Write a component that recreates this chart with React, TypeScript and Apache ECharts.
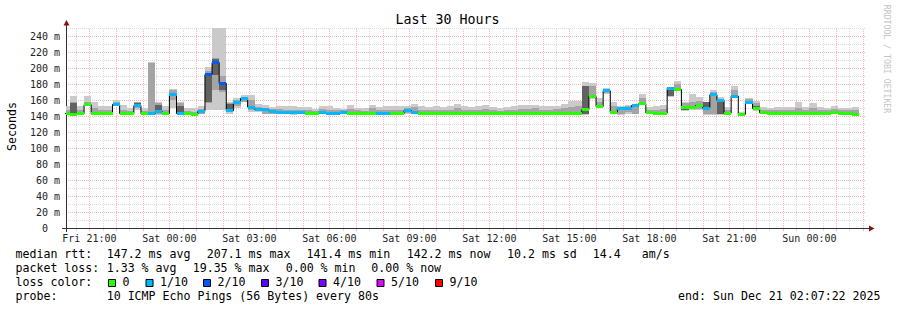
import React, { useEffect, useRef } from "react";
import * as echarts from "echarts";

// ---- time frame (hours counted from Fri 00:00) ----
const START_HOUR = 20 + 7 / 60 + 22 / 3600; // Fri 20:07:22
const END_HOUR = START_HOUR + 30; // Sun 02:07:22
const FIRST_STEP_HOUR = 20; // consolidated rows start Fri 20:00
const STEP_HOURS = 16 / 60; // 960 s rows
const Y_MAX = 250;

// ---- tick labels ----
const xTickHours = [21, 24, 27, 30, 33, 36, 39, 42, 45, 48];
const xTickLabels = ["Fri 21:00", "Sat 00:00", "Sat 03:00", "Sat 06:00", "Sat 09:00", "Sat 12:00", "Sat 15:00", "Sat 18:00", "Sat 21:00", "Sun 00:00"];

// ---- data (ms), one value per 16-minute row ----
const medianRtt = [
  143, 142.5, 143, 154, 143, 143, 143, 154.5, 143, 143,
  153, 143, 143, 145.5, 143, 167, 143, 143, 142, 146,
  192, 207, 181, 146.5, 157, 162, 151, 148, 148, 146,
  145, 145, 144.5, 145, 143, 143.5, 145, 143.5, 143, 145,
  143, 143, 143, 143, 143, 143, 143, 143, 147, 145,
  143.5, 143, 143, 143, 143, 143, 143, 143, 143, 143,
  143, 143, 143, 143, 143, 143, 143, 143, 143, 143,
  143, 143, 143, 148, 164.5, 152, 171.5, 145, 149, 150,
  153, 155.5, 144, 143, 143.5, 174.5, 173.3, 151, 151, 153,
  150, 166.5, 159.5, 143.5, 165, 142, 157, 149.5, 144, 143.5,
  143.5, 143.5, 143.5, 143.5, 143.5, 143.5, 143.5, 143.5, 144.5, 143,
  143.5, 142.5,
];
const lossCount = [
  0, 0, 0, 0, 0, 0, 0, 1, 0, 0,
  1, 0, 1, 1, 0, 1, 1, 0, 0, 1,
  2, 2, 2, 1, 1, 1, 1, 1, 1, 1,
  1, 1, 1, 1, 0, 0, 1, 1, 1, 1,
  0, 0, 0, 0, 1, 1, 0, 0, 1, 1,
  0, 0, 0, 0, 0, 0, 0, 0, 0, 0,
  0, 0, 0, 0, 0, 0, 0, 0, 0, 0,
  0, 0, 0, 0, 0, 0, 1, 0, 1, 1,
  1, 0, 0, 0, 0, 1, 0, 0, 0, 0,
  1, 1, 1, 0, 1, 0, 1, 0, 0, 0,
  0, 0, 0, 0, 0, 0, 0, 0, 0, 0,
  0, 0,
];
const smokeMin = [
  141, 141, 141, 152, 141, 141, 141, 153, 141, 141,
  148, 141, 141, 141, 141, 150, 141, 141, 141, 142,
  148, 148, 148, 143, 150, 157, 145, 145, 142, 142,
  142, 142, 141.5, 142, 141.5, 141.5, 142, 141.5, 141, 142,
  141.5, 141.5, 141.5, 141.5, 141, 141, 141.5, 141, 142, 142,
  141.5, 141.5, 141.5, 141.5, 141.5, 141.5, 141.5, 141.5, 141.5, 141.5,
  141.5, 141.5, 141.5, 141.5, 141.5, 141.5, 141.5, 141.5, 141.5, 141.5,
  141.5, 141.5, 141.5, 141, 161, 150, 168, 142, 141.5, 143,
  142, 154, 142, 141.5, 141.5, 164, 171, 146, 147, 147,
  141, 141, 141, 141, 162, 140, 155, 146, 142, 141.5,
  141.5, 141.5, 141.5, 141.5, 141.5, 141.5, 141.5, 141.5, 142, 141,
  141.5, 141.5,
];
const smokeMax = [
  153, 165, 153, 164.5, 157, 152, 152, 160, 154, 150,
  158, 150, 208, 157.5, 152, 174, 157, 150, 150, 152,
  201, 250, 250, 157, 163, 166, 166, 155, 154, 151,
  153, 152, 152, 151, 151, 149, 152, 152, 150, 149,
  154, 150, 150, 154, 151, 152, 152, 153, 152, 155,
  152, 151, 152, 151, 152, 155, 152, 151, 152, 154,
  151, 150, 151, 152, 154, 154, 154, 152, 153, 153,
  155, 159, 159, 182, 181, 162, 175, 158, 152, 154,
  154, 167, 151, 152, 154, 175, 183.5, 158, 167, 164,
  157, 173, 164, 151, 178, 145, 163, 159, 151, 150,
  151.5, 151, 151, 157.5, 151.5, 156, 151.5, 150, 152, 150,
  150, 151.5,
];
const smokeMidLo = [
  142, 142, 142, 153, 142, 142, 142, 154, 142, 142,
  150, 142, 141.5, 143, 142, 160, 142, 142, 141.5, 143,
  156, 173, 170, 145, 152, 158, 147, 146, 143, 143,
  143, 143, 143, 143, 142, 142, 143, 142, 142, 143,
  142, 142, 142, 142, 142, 142, 142, 142, 144, 143,
  142, 142, 142, 142, 142, 142, 142, 142, 142, 142,
  142, 142, 142, 142, 142, 142, 142, 142, 142, 142,
  142, 142, 142, 142, 163, 151, 169, 143, 142, 145,
  143, 155, 143, 142, 142, 165, 172, 147, 149, 149,
  142, 142, 142, 142, 163, 141, 156, 147, 143, 142,
  142, 142, 142, 142, 142, 142, 142, 142, 143, 142,
  142, 142,
];
const smokeMidHi = [
  148, 158, 147, 158, 150, 147, 147, 158, 148, 146,
  157, 146, 206, 156, 147, 173, 156, 146, 145, 149,
  196, 212, 190, 156, 160, 164, 160, 151, 150, 149,
  149, 148, 148, 148, 147, 146, 149, 148, 147, 147,
  149, 147, 146, 150, 148, 148, 148, 148, 150, 151,
  148, 147, 148, 147, 148, 150, 148, 147, 148, 149,
  147, 146, 147, 148, 149, 149, 150, 148, 148, 149,
  150, 151, 152, 178, 177, 158, 174, 152, 150, 152,
  152, 162, 148, 148, 149, 174, 180, 156, 158, 159,
  156, 170, 160, 147, 172, 144, 161, 156, 148, 147,
  148, 147, 147, 150, 148, 150, 148, 147, 149, 147,
  147, 148,
];
// dense core of the smoke, only for some rows
const coreSteps = [1, 10, 13, 16, 20, 21, 22, 23, 29, 32, 47, 48, 73, 85, 87, 90, 92, 97];
const coreLo = [143, 152, 144, 143, 158, 191, 173, 146, 144, 143, 141.5, 145, 142.5, 165, 147, 150, 142, 147];
const coreHi = [156, 156, 154, 152, 190, 211, 182, 155, 148, 146, 143, 149, 177, 173, 151, 157, 158, 153];

// ---- legend ----
const lossLegendLabels = ["0", "1/10", "2/10", "3/10", "4/10", "5/10", "9/10"];
const lossLegendColors = ["#26ff00", "#00b8ff", "#0059ff", "#5e00ff", "#7e00ff", "#dd00ff", "#ff0000"];
const legendBoxX = [108, 145.5, 203, 261, 318.5, 376.5, 435];

const MONO = "DejaVu Sans Mono";
const MAJOR = "rgba(255,60,60,0.38)";
const MINOR = "rgba(140,140,140,0.32)";

function lossColor(l: number) {
  if (l <= 5) return lossLegendColors[l];
  if (l >= 9) return lossLegendColors[6];
  return lossLegendColors[5];
}
const stepStart = (k: number) => FIRST_STEP_HOUR + k * STEP_HOURS;

function buildOption() {
  const smokeData = medianRtt.map((_, k) => {
    const ci = coreSteps.indexOf(k);
    return [
      stepStart(k), stepStart(k) + STEP_HOURS,
      smokeMin[k], smokeMax[k], smokeMidLo[k], smokeMidHi[k],
      ci >= 0 ? coreLo[ci] : 0, ci >= 0 ? coreHi[ci] : 0,
    ];
  });
  const bandData = medianRtt.map((m, k) => [stepStart(k), stepStart(k) + STEP_HOURS, m, lossCount[k]]);
  const lineData = medianRtt.map((m, k) => [stepStart(k), m]);
  lineData.push([stepStart(medianRtt.length), medianRtt[medianRtt.length - 1]]);

  const gridData: number[][] = [];
  for (let h = 20.5; h <= 50; h += 0.5) gridData.push([h % 1 === 0 ? 1 : 0, h]);
  for (let v = 10; v <= 250; v += 10) gridData.push([v % 20 === 0 ? 3 : 2, v]);

  const txt = (text: string, x: number, y: number, extra: any = {}) => ({
    type: "text", x, y, silent: true,
    style: { text, fontFamily: MONO, fontSize: 11.6, fill: "#000", verticalAlign: "middle", align: "left", ...extra },
  });

  const graphic: any[] = [
    { type: "text", x: 447.5, y: 19, style: { text: "Last 30 Hours", fontFamily: MONO, fontSize: 13.3, fill: "#000", align: "center", verticalAlign: "middle" } },
    { type: "text", x: 11.5, y: 126.5, rotation: Math.PI / 2, style: { text: "Seconds", fontFamily: MONO, fontSize: 11.6, fill: "#000", align: "center", verticalAlign: "middle" } },
    { type: "text", x: 886.5, y: 59, rotation: -Math.PI / 2, style: { text: "RRDTOOL / TOBI OETIKER", fontFamily: MONO, fontSize: 8.2, fill: "#c4c4c4", align: "center", verticalAlign: "middle" } },
    // axis extensions & arrows
    { type: "line", shape: { x1: 62, y1: 228.5, x2: 66, y2: 228.5 }, style: { stroke: "#333", lineWidth: 1 } },
    { type: "line", shape: { x1: 866, y1: 228.5, x2: 870, y2: 228.5 }, style: { stroke: "#333", lineWidth: 1 } },
    { type: "line", shape: { x1: 66.5, y1: 228, x2: 66.5, y2: 232 }, style: { stroke: "#333", lineWidth: 1 } },
    { type: "line", shape: { x1: 66.5, y1: 28, x2: 66.5, y2: 24 }, style: { stroke: "#333", lineWidth: 1 } },
    { type: "polygon", shape: { points: [[869, 225.5], [874.5, 228.5], [869, 231.5]] }, style: { fill: "#8b1111" } },
    { type: "polygon", shape: { points: [[63.5, 25.5], [66.5, 20], [69.5, 25.5]] }, style: { fill: "#8b1111" } },
    // legend rows
    txt("median rtt:", 15.5, 254.3),
    txt("147.2 ms avg", 106.7, 254.3),
    txt("207.1 ms max", 206.7, 254.3),
    txt("141.4 ms min", 306.4, 254.3),
    txt("142.2 ms now", 406.7, 254.3),
    txt("10.2 ms sd", 507, 254.3),
    txt("14.4", 592.7, 254.3),
    txt("am/s", 641.7, 254.3),
    txt("packet loss:", 15.5, 268.3),
    txt("1.33 % avg", 106.7, 268.3),
    txt("19.35 % max", 192.7, 268.3),
    txt("0.00 % min", 285.7, 268.3),
    txt("0.00 % now", 371.3, 268.3),
    txt("loss color:", 15.5, 282.3),
    txt("probe:", 15.5, 296.3),
    txt("10 ICMP Echo Pings (56 Bytes) every 80s", 106.7, 296.3),
    txt("end: Sun Dec 21 02:07:22 2025", 880.5, 296.3, { align: "right" }),
  ];
  lossLegendLabels.forEach((lab, i) => {
    graphic.push({ type: "rect", shape: { x: legendBoxX[i] + 0.5, y: 279.5, width: 7, height: 7 }, style: { fill: lossLegendColors[i], stroke: "#000", lineWidth: 1 } });
    graphic.push(txt(lab, legendBoxX[i] + 14.5, 282.3));
  });

  return {
    animation: false,
    backgroundColor: "#ffffff",
    grid: { left: 66, top: 28, width: 800, height: 200, containLabel: false },
    xAxis: {
      type: "value", min: START_HOUR, max: END_HOUR,
      axisLine: { show: true, lineStyle: { color: "#333", width: 1 } },
      axisTick: { show: false },
      splitLine: { show: false },
      axisLabel: {
        customValues: xTickHours,
        formatter: (v: number) => { const i = xTickHours.indexOf(Math.round(v)); return i >= 0 ? xTickLabels[i] : ""; },
        fontFamily: MONO, fontSize: 10, color: "#222", margin: 4, lineHeight: 12,
      },
    },
    yAxis: {
      type: "value", min: 0, max: Y_MAX, interval: 10,
      axisLine: { show: true, lineStyle: { color: "#333", width: 1 } },
      axisTick: { show: false },
      splitLine: { show: false },
      axisLabel: {
        interval: 0, margin: 6, fontFamily: MONO, fontSize: 10, color: "#222",
        formatter: (v: number) => (v % 20 !== 0 ? "" : v === 0 ? "{z|0}" : `${v} m`),
        rich: { z: { padding: [0, 12, 0, 0], fontFamily: MONO, fontSize: 10, color: "#222" } },
      },
    },
    graphic,
    series: [
      {
        type: "custom", z: 0, clip: false, silent: true,
        data: gridData,
        renderItem: (params: any, api: any) => {
          const kind = api.value(0), v = api.value(1);
          const color = kind === 1 || kind === 3 ? MAJOR : MINOR;
          if (kind <= 1) {
            const p0 = api.coord([v, 0]);
            const p1 = api.coord([v, Y_MAX]);
            const x = Math.round(p0[0]) + 0.5;
            return {
              type: "group", children: [
                { type: "line", shape: { x1: x, y1: p0[1], x2: x, y2: p1[1] }, style: { stroke: color, lineWidth: 1, lineDash: [1, 1] } },
                { type: "line", shape: { x1: x, y1: Math.round(p0[1]) + 1, x2: x, y2: Math.round(p0[1]) + 3 }, style: { stroke: color, lineWidth: 1 } },
              ],
            };
          }
          const a = api.coord([START_HOUR, v]);
          const b = api.coord([END_HOUR, v]);
          const y = Math.round(a[1]) + 0.5;
          return { type: "line", shape: { x1: a[0], y1: y, x2: b[0], y2: y }, style: { stroke: color, lineWidth: 1, lineDash: [1, 1] } };
        },
      },
      {
        type: "custom", z: 1, clip: true, silent: true,
        data: smokeData,
        encode: { x: [0, 1], y: [2, 3] },
        renderItem: (params: any, api: any) => {
          const x0 = Math.round(api.coord([api.value(0), 0])[0]);
          const x1 = Math.round(api.coord([api.value(1), 0])[0]);
          const band = (lo: number, hi: number, fill: string) => {
            const yh = Math.round(api.coord([START_HOUR, hi])[1]);
            const yl = Math.round(api.coord([START_HOUR, lo])[1]);
            return { type: "rect", shape: { x: x0, y: yh, width: x1 - x0, height: Math.max(1, yl - yh) }, style: { fill } };
          };
          const children: any[] = [band(api.value(2), api.value(3), "#cacaca"), band(api.value(4), api.value(5), "#a4a4a4")];
          if (api.value(7) > api.value(6)) children.push(band(api.value(6), api.value(7), "#626262"));
          return { type: "group", children };
        },
      },
      {
        type: "line", z: 2, step: "end", showSymbol: false, silent: true,
        data: lineData,
        lineStyle: { color: "#000", width: 1 },
      },
      {
        type: "custom", z: 3, clip: true, silent: true,
        data: bandData,
        encode: { x: [0, 1], y: 2 },
        renderItem: (params: any, api: any) => {
          const x0 = Math.round(api.coord([api.value(0), 0])[0]);
          const x1 = Math.round(api.coord([api.value(1), 0])[0]);
          const y = api.coord([START_HOUR, api.value(2)])[1];
          return { type: "rect", shape: { x: x0, y: Math.round(y - 1.5), width: x1 - x0, height: 3 }, style: { fill: lossColor(api.value(3)) } };
        },
      },
    ],
  };
}

export default function App() {
  const ref = useRef<HTMLDivElement>(null);
  useEffect(() => {
    const chart = echarts.init(ref.current!, undefined, { renderer: "svg" });
    chart.setOption(buildOption() as any);
    return () => chart.dispose();
  }, []);
  return <div ref={ref} style={{ position: "absolute", left: 0, top: 0, width: 897, height: 310, background: "#fff" }} />;
}
